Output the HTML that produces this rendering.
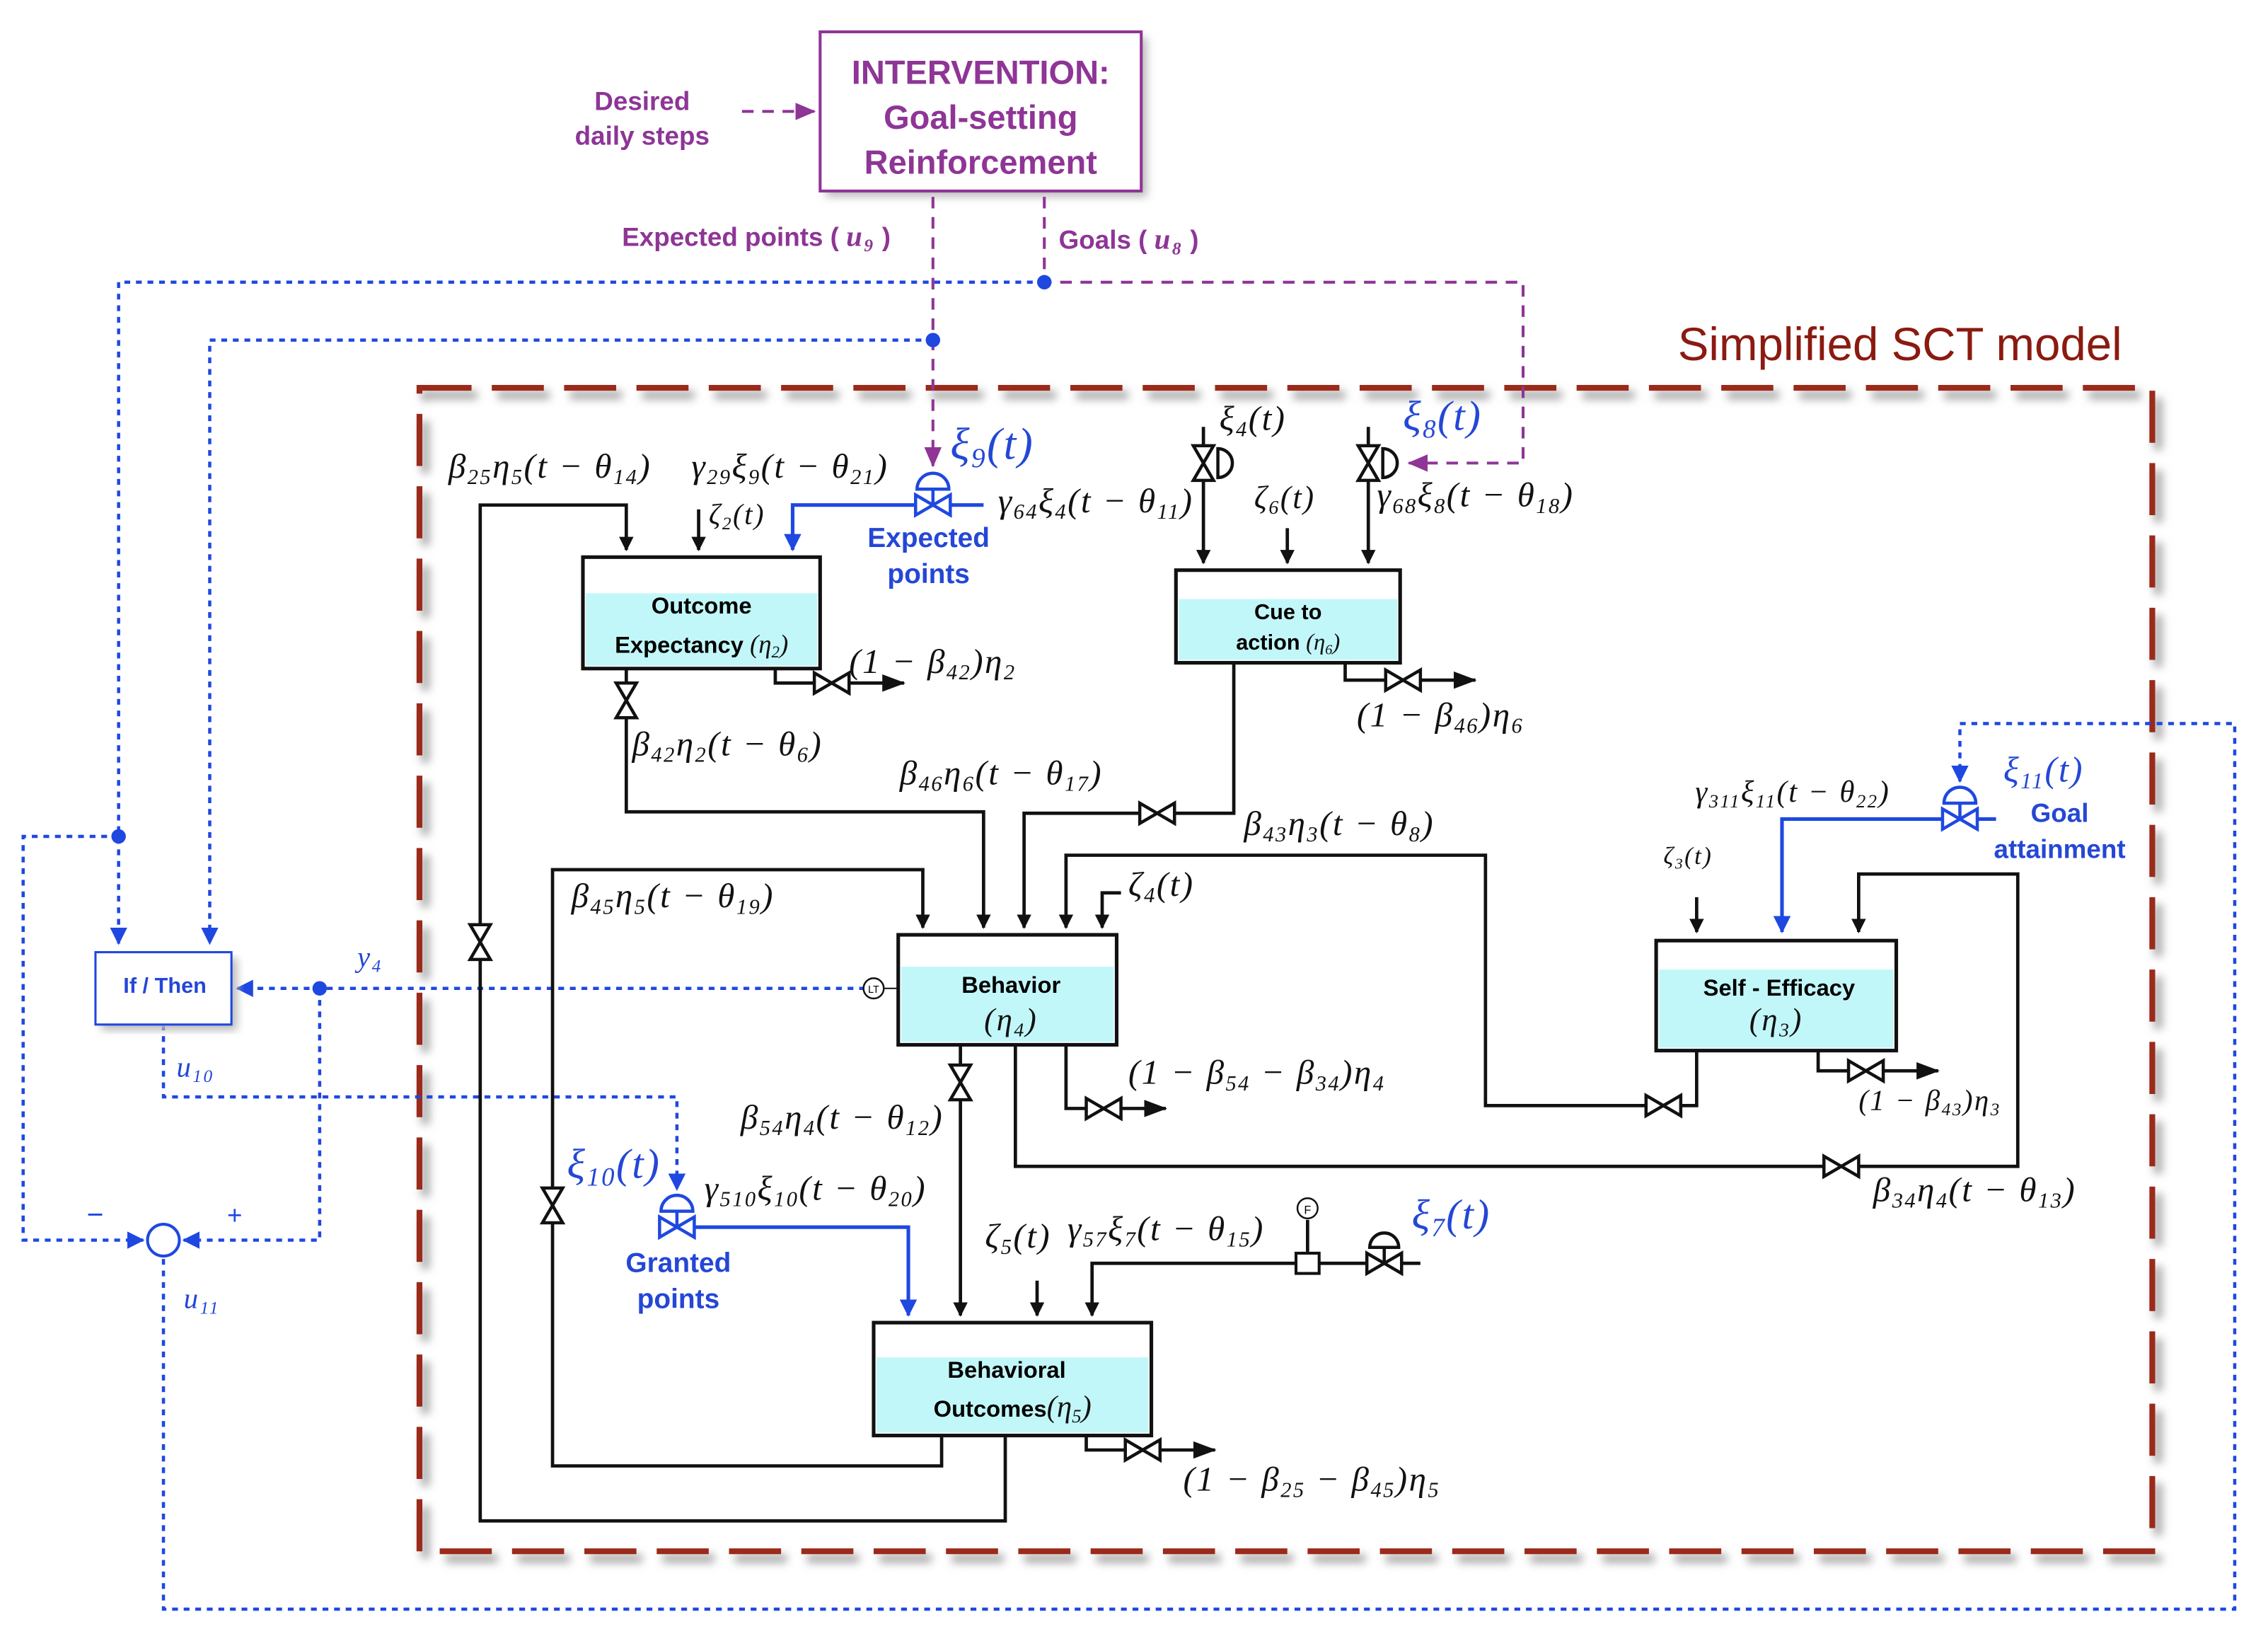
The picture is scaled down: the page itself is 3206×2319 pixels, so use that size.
<!DOCTYPE html>
<html><head><meta charset="utf-8">
<style>
html,body{margin:0;padding:0;background:#fff;}
#wrap{position:absolute;left:0;top:0;width:1568px;height:1134px;transform:scale(2.04464,2.04497);transform-origin:0 0;overflow:hidden;}
svg{position:absolute;left:0;top:0;}
.t{position:absolute;white-space:nowrap;line-height:1;}
.m{font-family:"Liberation Serif",serif;font-style:italic;font-size:24px;color:#111;letter-spacing:1.2px;}
.m sub{font-size:0.62em;vertical-align:-0.3em;font-style:italic;}
.b{font-family:"Liberation Sans",sans-serif;font-weight:bold;}
.blue{color:#2447d6;}
.pur{color:#8e3596;}
.bx{font-family:"Liberation Sans",sans-serif;font-weight:bold;font-size:16px;color:#000;text-align:center;}
</style></head><body>
<div id="wrap">
<svg width="1568" height="1134" viewBox="0 0 1568 1134">
<defs>
<marker id="ak" markerWidth="10" markerHeight="10" refX="9" refY="5" orient="auto" markerUnits="userSpaceOnUse"><path d="M0,0 L10,5 L0,10 z" fill="#111"/></marker>
<marker id="akb" markerWidth="16" markerHeight="12" refX="15" refY="6" orient="auto" markerUnits="userSpaceOnUse"><path d="M0,0 L16,6 L0,12 z" fill="#111"/></marker>
<marker id="ab" markerWidth="12" markerHeight="12" refX="11" refY="6" orient="auto" markerUnits="userSpaceOnUse"><path d="M0,0 L12,6 L0,12 z" fill="#1f48e0"/></marker>
<marker id="ap" markerWidth="14" markerHeight="12" refX="13" refY="6" orient="auto" markerUnits="userSpaceOnUse"><path d="M0,0 L14,6 L0,12 z" fill="#8e3596"/></marker>
<filter id="sh" x="-5%" y="-5%" width="110%" height="110%"><feGaussianBlur stdDeviation="3"/></filter>
</defs>
<rect x="294" y="273" width="1198" height="804" fill="none" stroke="#aaa" stroke-width="6" stroke-dasharray="36 14" filter="url(#sh)"/>
<rect x="290" y="268" width="1198" height="804" fill="none" stroke="#9b2a1a" stroke-width="4" stroke-dasharray="36 14"/>
<rect x="571" y="26" width="222" height="110" fill="#bbb" filter="url(#sh)"/>
<rect x="567" y="22" width="222" height="110" fill="#fff" stroke="#8e3596" stroke-width="2"/>
<g stroke="#8e3596" stroke-width="2" fill="none" stroke-dasharray="8 6">
<line x1="513" y1="77" x2="563" y2="77" marker-end="url(#ap)"/>
<line x1="645" y1="136" x2="645" y2="322" marker-end="url(#ap)"/>
<polyline points="722,136 722,195 1053,195 1053,320 974,320" marker-end="url(#ap)"/>
</g>
<g stroke="#1f48e0" stroke-width="2.2" fill="none" stroke-dasharray="4 4">
<polyline points="722,195 82,195 82,652" marker-end="url(#ab)"/>
<polyline points="645,235 145,235 145,652" marker-end="url(#ab)"/>
<polyline points="598,683 164,683" marker-end="url(#ab)"/>
<polyline points="221,683 221,857 127,857" marker-end="url(#ab)"/>
<polyline points="82,578 16,578 16,857 99,857" marker-end="url(#ab)"/>
<polyline points="113,708 113,758 468,758 468,822" marker-end="url(#ab)"/>
<polyline points="113,870 113,1112 1545,1112 1545,500 1355,500 1355,540" marker-end="url(#ab)"/>
</g>
<g fill="#1f48e0"><circle cx="722" cy="195" r="5"/><circle cx="645" cy="235" r="5"/><circle cx="82" cy="578" r="5"/><circle cx="221" cy="683" r="5"/></g>
<circle cx="113" cy="857" r="11" fill="#fff" stroke="#1f48e0" stroke-width="2"/>
<rect x="70" y="662" width="94" height="50" fill="#bbb" filter="url(#sh)"/>
<rect x="66" y="658" width="94" height="50" fill="#fff" stroke="#1f48e0" stroke-width="1.5"/>
<g stroke="#111" stroke-width="2.5">
<rect x="403" y="385" width="164" height="77" fill="#fff"/>
<rect x="813" y="394" width="155" height="64" fill="#fff"/>
<rect x="621" y="646" width="151" height="76" fill="#fff"/>
<rect x="1145" y="650" width="166" height="76" fill="#fff"/>
<rect x="604" y="914" width="192" height="78" fill="#fff"/>
</g>
<g fill="#c2f7f9">
<rect x="405" y="410" width="160" height="50"/>
<rect x="815" y="414" width="151" height="42"/>
<rect x="623" y="668" width="147" height="52"/>
<rect x="1147" y="670" width="162" height="54"/>
<rect x="606" y="938" width="188" height="52"/>
</g>
<g stroke="#111" stroke-width="2.3" fill="none">
<polyline points="695,992 695,1051 332,1051 332,349 433,349 433,380" marker-end="url(#ak)"/>
<line x1="483" y1="352" x2="483" y2="380" marker-end="url(#ak)"/>
<polyline points="536,462 536,472 625,472" marker-end="url(#akb)"/>
<polyline points="433,462 433,561 680,561 680,641" marker-end="url(#ak)"/>
<polyline points="853,458 853,562 708,562 708,641" marker-end="url(#ak)"/>
<polyline points="930,458 930,470 1020,470" marker-end="url(#akb)"/>
<line x1="832" y1="295" x2="832" y2="389" marker-end="url(#ak)"/>
<line x1="890" y1="365" x2="890" y2="389" marker-end="url(#ak)"/>
<line x1="946" y1="295" x2="946" y2="389" marker-end="url(#ak)"/>
<polyline points="1173,726 1173,764 1027,764 1027,591 737,591 737,641" marker-end="url(#ak)"/>
<polyline points="775,617 762,617 762,641" marker-end="url(#ak)"/>
<polyline points="651,992 651,1013 382,1013 382,601 638,601 638,641" marker-end="url(#ak)"/>
<line x1="664" y1="722" x2="664" y2="909" marker-end="url(#ak)"/>
<polyline points="737,722 737,766 806,766" marker-end="url(#akb)"/>
<polyline points="702,722 702,806 1395,806 1395,604 1285,604 1285,644" marker-end="url(#ak)"/>
<line x1="1173" y1="620" x2="1173" y2="644" marker-end="url(#ak)"/>
<polyline points="1257,726 1257,740 1340,740" marker-end="url(#akb)"/>
<line x1="717" y1="885" x2="717" y2="909" marker-end="url(#ak)"/>
<polyline points="982,873 755,873 755,909" marker-end="url(#ak)"/>
<line x1="904" y1="865" x2="904" y2="843"/>
<polyline points="751,992 751,1002 840,1002" marker-end="url(#akb)"/>
<line x1="604" y1="683" x2="621" y2="683" stroke-width="1"/>
</g>
<rect x="896" y="866" width="16" height="14" fill="#fff" stroke="#111" stroke-width="2"/>
<circle cx="904" cy="835" r="7" fill="#fff" stroke="#111" stroke-width="1.2"/>
<text x="904" y="839" font-size="8" text-anchor="middle" font-family="Liberation Sans">F</text>
<circle cx="604" cy="683" r="7" fill="#fff" stroke="#111" stroke-width="1.2"/>
<text x="604" y="686" font-size="7" text-anchor="middle" font-family="Liberation Sans">LT</text>
<g stroke="#1f48e0" stroke-width="2.5" fill="none">
<polyline points="680,349 548,349 548,380" marker-end="url(#ab)"/>
<polyline points="1380,566 1232,566 1232,644" marker-end="url(#ab)"/>
<polyline points="455,848 628,848 628,909" marker-end="url(#ab)"/>
</g>
<g fill="#fff" stroke="#111" stroke-width="2.2">
<polygon points="563,465 587,479 587,465 563,479"/>
<polygon points="958,463 982,477 982,463 958,477"/>
<polygon points="788,555 812,569 812,555 788,569"/>
<polygon points="1138,757 1162,771 1162,757 1138,771"/>
<polygon points="751,759 775,773 775,759 751,773"/>
<polygon points="1261,799 1285,813 1285,799 1261,813"/>
<polygon points="1278,733 1302,747 1302,733 1278,747"/>
<polygon points="778,995 802,1009 802,995 778,1009"/>
<polygon points="945,866 969,880 969,866 945,880"/>
<polygon points="426,472 440,496 426,496 440,472"/>
<polygon points="325,639 339,663 325,663 339,639"/>
<polygon points="375,821 389,845 375,845 389,821"/>
<polygon points="657,736 671,760 657,760 671,736"/>
<polygon points="825,308 839,332 825,332 839,308"/>
<polygon points="939,308 953,332 939,332 953,308"/>
<path d="M842,310 a10,10 0 0 1 0,20 z"/>
<path d="M956,310 a10,10 0 0 1 0,20 z"/>
<path d="M947,862 a10,10 0 0 1 20,0 z"/>
<line x1="957" y1="862" x2="957" y2="873"/>
</g>
<g fill="#fff" stroke="#1f48e0" stroke-width="2.2">
<polygon points="633,342 657,356 657,342 633,356"/>
<path d="M634,338 a11,11 0 0 1 22,0 z"/><line x1="645" y1="338" x2="645" y2="349"/>
<polygon points="1343,559 1367,573 1367,559 1343,573"/>
<path d="M1344,555 a11,11 0 0 1 22,0 z"/><line x1="1355" y1="555" x2="1355" y2="566"/>
<polygon points="456,841 480,855 480,841 456,855"/>
<path d="M457,837 a11,11 0 0 1 22,0 z"/><line x1="468" y1="837" x2="468" y2="848"/>
</g>
</svg>

<div class="t b pur" style="left:567px;top:35px;width:222px;text-align:center;font-size:23px;line-height:31px;">INTERVENTION:<br>Goal-setting<br>Reinforcement</div>
<div class="t b pur" style="left:384px;top:58px;width:120px;text-align:center;font-size:18px;line-height:24px;">Desired<br>daily steps</div>
<div class="t b pur" style="left:430px;top:154px;font-size:18px;">Expected points ( <span class="m pur" style="font-size:20px;">u<sub>9</sub></span> )</div>
<div class="t b pur" style="left:732px;top:156px;font-size:18px;">Goals ( <span class="m pur" style="font-size:20px;">u<sub>8</sub></span> )</div>
<div class="t" style="left:1160px;top:222px;font-family:'Liberation Sans',sans-serif;font-size:32px;color:#8b1a10;">Simplified SCT model</div>

<div class="t b blue" style="left:66px;top:674px;width:96px;text-align:center;font-size:15px;">If / Then</div>
<div class="t m blue" style="left:247px;top:652px;font-size:20px;">y<sub>4</sub></div>
<div class="t m blue" style="left:122px;top:728px;font-size:20px;">u<sub>10</sub></div>
<div class="t m blue" style="left:127px;top:888px;font-size:20px;">u<sub>11</sub></div>
<div class="t" style="left:60px;top:830px;font-size:20px;color:#1f48e0;font-family:'Liberation Sans';">−</div>
<div class="t" style="left:157px;top:831px;font-size:18px;color:#1f48e0;font-family:'Liberation Sans';">+</div>

<div class="t bx" style="left:403px;top:412px;width:164px;">Outcome</div>
<div class="t bx" style="left:403px;top:436px;width:164px;">Expectancy <span class="m" style="font-size:18px;font-weight:normal;letter-spacing:0;">(η<sub>2</sub>)</span></div>
<div class="t bx" style="left:813px;top:416px;width:155px;font-size:15px;">Cue to</div>
<div class="t bx" style="left:813px;top:437px;width:155px;font-size:15px;">action <span class="m" style="font-size:16px;font-weight:normal;letter-spacing:0;">(η<sub>6</sub>)</span></div>
<div class="t bx" style="left:621px;top:674px;width:156px;">Behavior</div>
<div class="t m" style="left:621px;top:694px;width:156px;text-align:center;font-size:22px;">(η<sub>4</sub>)</div>
<div class="t bx" style="left:1145px;top:676px;width:170px;">Self - Efficacy</div>
<div class="t m" style="left:1145px;top:694px;width:166px;text-align:center;font-size:22px;">(η<sub>3</sub>)</div>
<div class="t bx" style="left:604px;top:940px;width:184px;">Behavioral</div>
<div class="t bx" style="left:604px;top:962px;width:192px;">Outcomes<span class="m" style="font-size:21px;font-weight:normal;letter-spacing:0;">(η<sub>5</sub>)</span></div>

<div class="t m" style="left:310px;top:311px;">β<sub>25</sub>η<sub>5</sub>(t − θ<sub>14</sub>)</div>
<div class="t m" style="left:478px;top:311px;">γ<sub>29</sub>ξ<sub>9</sub>(t − θ<sub>21</sub>)</div>
<div class="t m blue" style="left:657px;top:291px;font-size:31px;">ξ<sub>9</sub>(t)</div>
<div class="t m" style="left:690px;top:335px;">γ<sub>64</sub>ξ<sub>4</sub>(t − θ<sub>11</sub>)</div>
<div class="t m" style="left:843px;top:278px;">ξ<sub>4</sub>(t)</div>
<div class="t m" style="left:867px;top:333px;font-size:22px;">ζ<sub>6</sub>(t)</div>
<div class="t m blue" style="left:970px;top:274px;font-size:29px;">ξ<sub>8</sub>(t)</div>
<div class="t m" style="left:952px;top:331px;">γ<sub>68</sub>ξ<sub>8</sub>(t − θ<sub>18</sub>)</div>
<div class="t b blue" style="left:592px;top:360px;width:100px;text-align:center;font-size:19px;line-height:25px;">Expected<br>points</div>
<div class="t m" style="left:490px;top:346px;font-size:20px;">ζ<sub>2</sub>(t)</div>
<div class="t m" style="left:587px;top:446px;">(1 − β<sub>42</sub>)η<sub>2</sub></div>
<div class="t m" style="left:437px;top:503px;">β<sub>42</sub>η<sub>2</sub>(t − θ<sub>6</sub>)</div>
<div class="t m" style="left:622px;top:523px;">β<sub>46</sub>η<sub>6</sub>(t − θ<sub>17</sub>)</div>
<div class="t m" style="left:938px;top:483px;">(1 − β<sub>46</sub>)η<sub>6</sub></div>
<div class="t m" style="left:860px;top:558px;">β<sub>43</sub>η<sub>3</sub>(t − θ<sub>8</sub>)</div>
<div class="t m" style="left:780px;top:600px;">ζ<sub>4</sub>(t)</div>
<div class="t m" style="left:395px;top:608px;">β<sub>45</sub>η<sub>5</sub>(t − θ<sub>19</sub>)</div>
<div class="t m" style="left:1172px;top:537px;font-size:21px;">γ<sub>311</sub>ξ<sub>11</sub>(t − θ<sub>22</sub>)</div>
<div class="t m blue" style="left:1385px;top:520px;font-size:25px;">ξ<sub>11</sub>(t)</div>
<div class="t b blue" style="left:1370px;top:550px;width:108px;text-align:center;font-size:18px;line-height:25px;">Goal<br>attainment</div>
<div class="t m" style="left:1150px;top:583px;font-size:17px;">ζ<sub>3</sub>(t)</div>
<div class="t m" style="left:780px;top:730px;">(1 − β<sub>54</sub> − β<sub>34</sub>)η<sub>4</sub></div>
<div class="t m" style="left:1285px;top:751px;font-size:20px;">(1 − β<sub>43</sub>)η<sub>3</sub></div>
<div class="t m" style="left:512px;top:761px;">β<sub>54</sub>η<sub>4</sub>(t − θ<sub>12</sub>)</div>
<div class="t m" style="left:1295px;top:811px;">β<sub>34</sub>η<sub>4</sub>(t − θ<sub>13</sub>)</div>
<div class="t m blue" style="left:392px;top:791px;font-size:29px;">ξ<sub>10</sub>(t)</div>
<div class="t m" style="left:487px;top:810px;">γ<sub>510</sub>ξ<sub>10</sub>(t − θ<sub>20</sub>)</div>
<div class="t b blue" style="left:419px;top:861px;width:100px;text-align:center;font-size:19px;line-height:25px;">Granted<br>points</div>
<div class="t m" style="left:681px;top:843px;">ζ<sub>5</sub>(t)</div>
<div class="t m" style="left:738px;top:838px;">γ<sub>57</sub>ξ<sub>7</sub>(t − θ<sub>15</sub>)</div>
<div class="t m blue" style="left:976px;top:826px;font-size:29px;">ξ<sub>7</sub>(t)</div>
<div class="t m" style="left:818px;top:1011px;">(1 − β<sub>25</sub> − β<sub>45</sub>)η<sub>5</sub></div>
</div>
</body></html>
